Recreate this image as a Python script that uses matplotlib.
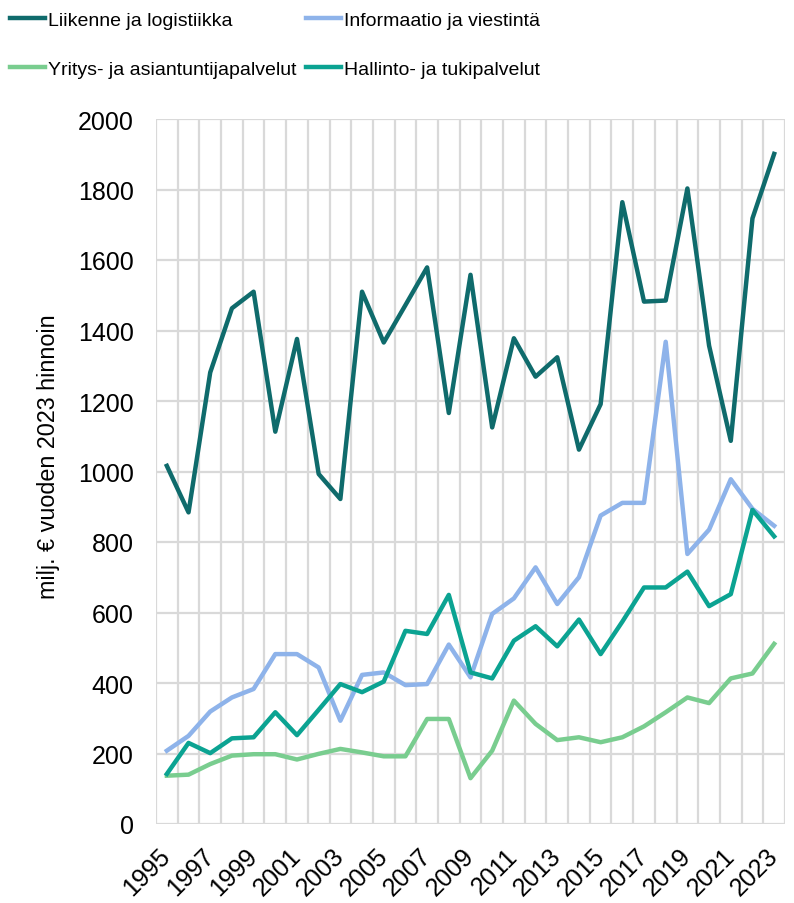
import numpy as np
import matplotlib
matplotlib.use('Agg')
import matplotlib.pyplot as plt

plt.rcParams['font.family'] = ['Liberation Sans', 'DejaVu Sans']

years = list(range(1995, 2024))

liikenne = [1016, 884, 1281, 1463, 1510, 1113, 1376, 993, 922, 1510,
            1366, 1472, 1579, 1166, 1558, 1125, 1378, 1269, 1324, 1062,
            1191, 1764, 1482, 1485, 1803, 1357, 1087, 1718, 1901]
informaatio = [208, 250, 319, 359, 383, 482, 482, 444, 293, 423,
               430, 394, 397, 509, 416, 596, 640, 728, 624, 700,
               875, 911, 911, 1368, 766, 835, 978, 894, 846]
yritys = [137, 140, 170, 194, 198, 198, 183, 199, 213, 203,
          192, 192, 298, 298, 130, 208, 350, 284, 238, 246,
          232, 246, 277, 317, 359, 343, 413, 427, 511]
hallinto = [142, 230, 201, 243, 246, 317, 252, 324, 397, 374,
            404, 548, 539, 650, 430, 413, 520, 561, 504, 580,
            482, 574, 671, 671, 716, 618, 652, 891, 816]

labels = ['Liikenne ja logistiikka', 'Informaatio ja viestintä',
          'Yritys- ja asiantuntijapalvelut', 'Hallinto- ja tukipalvelut']
colors = ['#0F6B6C', '#8EB3EA', '#79CD8F', '#0BA392']

fig = plt.figure(figsize=(7.94, 9.04), dpi=100)
ax = fig.add_axes([156 / 794, 79 / 904, 629 / 794, 705 / 904])

x = np.arange(len(years))
series = [liikenne, informaatio, yritys, hallinto]
lines = []
for s, c, lab in zip(series, colors, labels):
    l, = ax.plot(x, s, color=c, lw=3.2, label=lab)
    lines.append(l)

ax.set_xlim(-0.5, len(years) - 0.5)
ax.set_ylim(0, 2000)
ax.set_yticks(range(0, 2001, 200))
ax.set_xticks(x[::2])
ax.set_xticklabels([str(y) for y in years[::2]], rotation=45, ha='right',
                   va='center', rotation_mode='anchor')
ax.set_xticks(np.arange(-0.5, len(years)), minor=True)
ax.grid(False)
ax.grid(True, which='minor', axis='x', color='#D9D9D9', lw=1.6)
ax.grid(True, which='major', axis='y', color='#D9D9D9', lw=1.6)
ax.set_axisbelow(True)
for sp in ax.spines.values():
    sp.set_visible(False)
ax.tick_params(axis='both', which='both', length=0, labelsize=18, colors='black')
ax.tick_params(axis='x', pad=20)
ax.tick_params(axis='y', pad=16)
ax.set_ylabel('milj. € vuoden 2023 hinnoin', fontsize=16.8)
ax.yaxis.set_label_coords(-0.153, 0.522)

# legend: two columns (matplotlib fills column by column)
handles = [lines[0], lines[2], lines[1], lines[3]]
leg_labels = [labels[0], labels[2], labels[1], labels[3]]
fig.legend(handles, leg_labels, ncol=2, loc='upper left',
           bbox_to_anchor=(10 / 794, 1 - 12 / 904), frameon=False,
           fontsize=14, borderpad=0, borderaxespad=0,
           handlelength=1.8, handletextpad=0.15, columnspacing=0.5,
           labelspacing=1.61)

fig.savefig('out.png', dpi=100)
